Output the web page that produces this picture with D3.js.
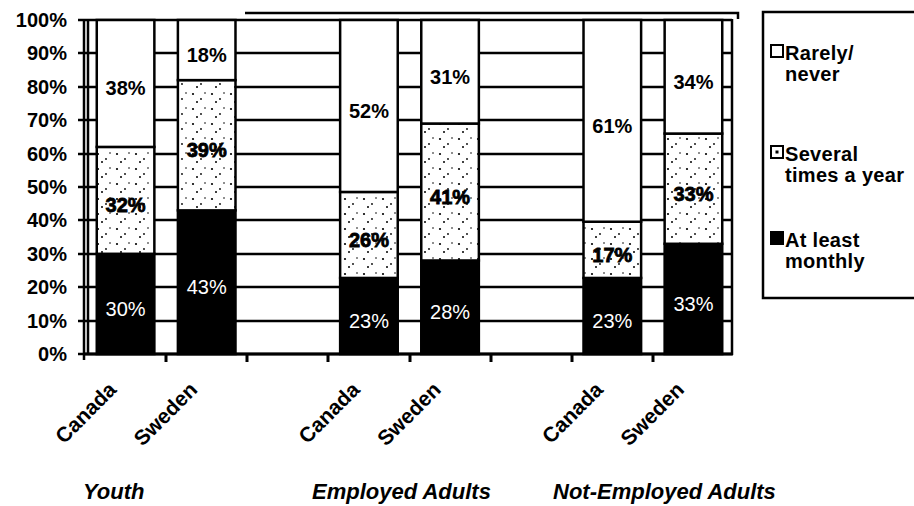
<!DOCTYPE html>
<html>
<head>
<meta charset="utf-8">
<script src="https://cdn.jsdelivr.net/npm/d3@7"></script>
</head>
<body style="margin:0;background:#fff">
<svg id="chart" width="914" height="506" style="display:block;font-family:'Liberation Sans', Arial, Helvetica, sans-serif"></svg>
<script>
// ---------------- data ----------------
const groups = ["Youth", "Employed Adults", "Not-Employed Adults"];
const countries = ["Canada", "Sweden"];
const seriesKeys = ["monthly", "several", "rarely"];
const seriesLabels = [["At least", "monthly"], ["Several", "times a year"], ["Rarely/", "never"]];
const monthly = [30, 43, 23, 28, 23, 33];
const several = [32, 39, 26, 41, 17, 33];
const rarely  = [38, 18, 52, 31, 61, 34];
const yTickValues = [0, 10, 20, 30, 40, 50, 60, 70, 80, 90, 100];

// ---------------- build table ----------------
const rows = [];
groups.forEach((g, gi) => countries.forEach((c, ci) => {
  const i = gi * countries.length + ci;
  rows.push({ key: g + "|" + c, group: g, country: c,
              monthly: monthly[i], several: several[i], rarely: rarely[i] });
}));
const slots = [];
groups.forEach((g, gi) => {
  countries.forEach(c => slots.push(g + "|" + c));
  if (gi < groups.length - 1) slots.push("gap" + gi);
});

// ---------------- layout ----------------
const svg = d3.select("#chart");
const X0 = 85, X1 = 734, Y0 = 354, Y1 = 20;
const x = d3.scaleBand().domain(slots).range([X0, X1]).paddingInner(0.29).paddingOuter(0.145);
const y = d3.scaleLinear().domain([0, 100]).range([Y0, Y1]);
const stack = d3.stack().keys(seriesKeys).offset(d3.stackOffsetExpand);
const stacked = stack(rows);

const defs = svg.append("defs");
const pat = defs.append("pattern").attr("id", "speck").attr("patternUnits", "userSpaceOnUse")
  .attr("width", 19).attr("height", 15);
pat.append("rect").attr("width", 19).attr("height", 15).attr("fill", "#fff");
[[3, 4, 1.1], [11, 9, 0.9], [15, 3, 0.8], [7, 12, 1.0]].forEach(p =>
  pat.append("circle").attr("cx", p[0]).attr("cy", p[1]).attr("r", p[2]).attr("fill", "#000"));
const fills = { monthly: "#000", several: "url(#speck)", rarely: "#fff" };

// gridlines as one stroked path
const gridPath = yTickValues.map(v => `M${X0 - 7},${Math.round(y(v))}H${X1 - 2}`).join("");
svg.append("path").attr("d", gridPath).attr("fill", "none")
  .attr("stroke", "#000").attr("stroke-width", 2.5);

// top "wall" edge
svg.append("path").attr("d", "M245,13 L738,13 L738,19").attr("fill", "none")
  .attr("stroke", "#000").attr("stroke-width", 2.5);

// y axis labels
svg.append("g").selectAll("text").data(yTickValues).join("text")
  .attr("x", 67).attr("y", v => y(v) + 7).attr("text-anchor", "end")
  .attr("font-size", 20).attr("font-weight", "bold").attr("fill", "#000")
  .text(v => v + "%");

// walls
svg.append("path").attr("d", `M${X0 - 1},${Y1 - 1}V${Y0 + 6}M${X0 + 3},${Y1}V${Y0}M${X1 - 2},${Y1 - 1}V${Y0 + 1}`)
  .attr("fill", "none").attr("stroke", "#000").attr("stroke-width", 2.5);

// bars
const barG = svg.append("g");
stacked.forEach(layer => {
  barG.selectAll(null).data(layer).join("rect")
    .attr("x", d => x(d.data.key)).attr("width", x.bandwidth())
    .attr("y", d => y(d[1] * 100)).attr("height", d => y(d[0] * 100) - y(d[1] * 100))
    .attr("fill", fills[layer.key]).attr("stroke", "#000").attr("stroke-width", 2.5);
});
stacked.forEach(layer => {
  barG.selectAll(null).data(layer).join("text")
    .attr("x", d => x(d.data.key) + x.bandwidth() / 2)
    .attr("y", d => (y(d[0] * 100) + y(d[1] * 100)) / 2 + 12)
    .attr("text-anchor", "middle").attr("font-size", 20)
    .attr("font-weight", layer.key === "monthly" ? "normal" : "bold")
    .attr("fill", layer.key === "monthly" ? "#fff" : "#000")
    .attr("stroke", layer.key === "several" ? "#000" : "none")
    .attr("stroke-width", layer.key === "several" ? 0.8 : 0)
    .text(d => d.data[layer.key] + "%");
});

// x axis baseline and ticks at slot boundaries (one path)
const tickPath = `M${X0 - 2},${Y0}H${X1 - 1}` +
  d3.range(1, slots.length).map(k => `M${Math.round(X0 + k * x.step())},${Y0}V${Y0 + 8}`).join("");
svg.append("path").attr("d", tickPath).attr("fill", "none")
  .attr("stroke", "#000").attr("stroke-width", 3);

// rotated country labels
svg.append("g").selectAll("text").data(rows).join("text")
  .attr("transform", d => `translate(${x(d.key) + x.bandwidth() / 2 - 8},391) rotate(-45)`)
  .attr("text-anchor", "end").attr("font-size", 21).attr("font-weight", "bold")
  .text(d => d.country);

// group labels
const groupLabelX = [83, 312, 553];
svg.append("g").selectAll("text").data(groups).join("text")
  .attr("x", (d, i) => groupLabelX[i]).attr("y", 499)
  .attr("font-size", 22).attr("font-weight", "bold").attr("font-style", "italic")
  .text(d => d);

// legend
const lg = svg.append("g");
lg.append("rect").attr("x", 763).attr("y", 12).attr("width", 170).attr("height", 286)
  .attr("fill", "#fff").attr("stroke", "#000").attr("stroke-width", 2.5);
const legendTop = [60, 161, 247];
const legendOrder = [2, 1, 0];
legendOrder.forEach((si, k) => {
  const ty = legendTop[k];
  const key = seriesKeys[si];
  lg.append("rect").attr("x", 771).attr("y", ty - 15).attr("width", 12).attr("height", 12)
    .attr("fill", key === "monthly" ? "#000" : "#fff").attr("stroke", "#000").attr("stroke-width", 2);
  if (key === "several") {
    lg.append("rect").attr("x", 775.5).attr("y", ty - 10.5).attr("width", 3).attr("height", 3).attr("fill", "#000");
  }
  seriesLabels[si].forEach((line, li) => {
    lg.append("text").attr("x", 785).attr("y", ty + li * 20.5)
      .attr("font-size", 20).attr("font-weight", "bold").attr("letter-spacing", 0.3)
      .text(line);
  });
});
</script>
</body>
</html>
